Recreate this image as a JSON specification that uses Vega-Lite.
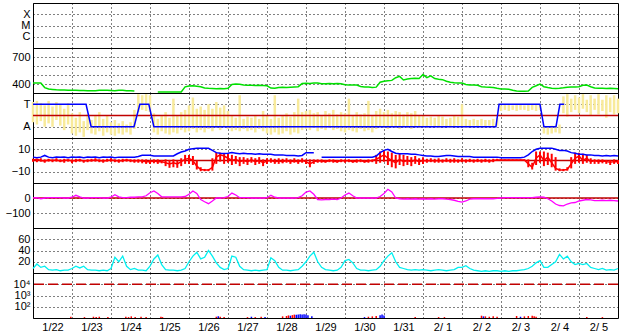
{
"$schema":"https://vega.github.io/schema/vega-lite/v6.json",
"padding":{"left":0,"top":2,"right":0,"bottom":0},
"background":"white",
"spacing":0,
"bounds":"flush",
"resolve":{"scale":{"x":"independent","y":"independent"}},
"config":{
 "view":{"stroke":"black","strokeWidth":1},
 "font":"Liberation Sans",
 "axis":{"labelFont":"Liberation Sans","labelFontSize":11,"labelColor":"black","ticks":false,"domain":false,"grid":true,"gridColor":"black","gridDash":[1,3],"gridOpacity":1,"gridWidth":1},
 "axisY":{"minExtent":32,"maxExtent":32,"labelPadding":3},
 "concat":{"spacing":0}
},
"datasets":{
"m":[
{"d":0.0,"sp":412,"bt":3,"bz":0.5,"bl":-1,"bh":1.5,"pl":-0.6,"ph":1.2,"ds":0,"kp":8},
{"d":0.1,"sp":412,"bt":2.5,"bz":1,"bl":-1.5,"bh":1.5,"pl":-0.8,"ph":1.3,"ds":2,"kp":16},
{"d":0.2,"sp":410,"bt":3,"bz":0,"bl":-1,"bh":2,"pl":-0.5,"ph":1.1,"ds":-5,"kp":10},
{"d":0.3,"sp":360,"bt":4.5,"bz":-0.5,"bl":-2,"bh":1,"pl":-1,"ph":0.9,"ds":0,"kp":12},
{"d":0.4,"sp":345,"bt":3,"bz":0.5,"bl":-1,"bh":1.5,"pl":-0.7,"ph":1.3,"ds":2,"kp":6},
{"d":0.5,"sp":340,"bt":2.5,"bz":0,"bl":-1.5,"bh":1,"pl":-1.0,"ph":0.8,"ds":2,"kp":5},
{"d":0.6,"sp":335,"bt":3,"bz":0.5,"bl":-1,"bh":2,"pl":-0.4,"ph":1.2,"ds":2,"kp":6},
{"d":0.7,"sp":333,"bt":2.8,"bz":-0.5,"bl":-1.5,"bh":1,"pl":-0.9,"ph":1.0,"ds":2,"kp":4},
{"d":0.8,"sp":332,"bt":3,"bz":0,"bl":-2,"bh":1.5,"pl":-1.3,"ph":0.6,"ds":0,"kp":5},
{"d":0.9,"sp":330,"bt":2.5,"bz":0.5,"bl":-1,"bh":1,"pl":-0.8,"ph":1.1,"ds":0,"kp":5},
{"d":1.0,"sp":331,"bt":3,"bz":-0.5,"bl":-2.5,"bh":1,"pl":-1.6,"ph":0.2,"ds":5,"kp":8},
{"d":1.1,"sp":330,"bt":2.8,"bz":0,"bl":-1.5,"bh":1.5,"pl":-1.8,"ph":-0.2,"ds":18,"kp":12},
{"d":1.2,"sp":328,"bt":3,"bz":0.5,"bl":-1,"bh":1.5,"pl":-1.5,"ph":0.3,"ds":8,"kp":9},
{"d":1.3,"sp":327,"bt":2.5,"bz":-0.5,"bl":-2,"bh":0.5,"pl":-1.9,"ph":-0.5,"ds":0,"kp":12},
{"d":1.4,"sp":326,"bt":3,"bz":0,"bl":-1.5,"bh":1,"pl":-1.3,"ph":0.1,"ds":0,"kp":6},
{"d":1.5,"sp":325,"bt":2.8,"bz":0,"bl":-1,"bh":1.5,"pl":-1.6,"ph":-0.4,"ds":2,"kp":5},
{"d":1.6,"sp":325,"bt":3,"bz":0.5,"bl":-1,"bh":2,"pl":-1.7,"ph":0,"ds":2,"kp":5},
{"d":1.7,"sp":330,"bt":2.5,"bz":0,"bl":-1.5,"bh":1,"pl":-1.4,"ph":0.3,"ds":2,"kp":4},
{"d":1.8,"sp":331,"bt":3,"bz":-0.5,"bl":-2,"bh":1,"pl":-1.8,"ph":-0.3,"ds":0,"kp":5},
{"d":1.9,"sp":330,"bt":2.8,"bz":0,"bl":-1,"bh":1.5,"pl":-1.5,"ph":0,"ds":0,"kp":4},
{"d":2.0,"sp":328,"bt":3,"bz":0.5,"bl":-1,"bh":2,"pl":-1.7,"ph":-0.6,"ds":5,"kp":8},
{"d":2.1,"sp":326,"bt":2.5,"bz":0,"bl":-1.5,"bh":1,"pl":-1.8,"ph":-0.4,"ds":22,"kp":28},
{"d":2.2,"sp":330,"bt":3,"bz":-0.5,"bl":-2,"bh":1,"pl":-1.6,"ph":-0.7,"ds":8,"kp":20},
{"d":2.3,"sp":330,"bt":3,"bz":0,"bl":-1.5,"bh":1.5,"pl":-1.7,"ph":-0.5,"ds":2,"kp":30},
{"d":2.4,"sp":326,"bt":2.8,"bz":0.5,"bl":-1,"bh":1.5,"pl":-1.5,"ph":-0.8,"ds":2,"kp":12},
{"d":2.5,"sp":324,"bt":3,"bz":0,"bl":-1.5,"bh":1,"pl":-1.7,"ph":-0.6,"ds":5,"kp":6},
{"d":2.6,"sp":322,"bt":3,"bz":-0.5,"bl":-2,"bh":1,"pl":-1.2,"ph":0.5,"ds":5,"kp":8},
{"d":2.7,"sp":null,"bt":3.5,"bz":0,"bl":-2,"bh":1,"pl":0.3,"ph":1.9,"ds":7,"kp":5},
{"d":2.8,"sp":null,"bt":4.6,"bz":-0.5,"bl":-2.5,"bh":1,"pl":0.5,"ph":1.8,"ds":7,"kp":5},
{"d":2.9,"sp":null,"bt":4.6,"bz":-1,"bl":-3,"bh":1,"pl":0.4,"ph":1.9,"ds":15,"kp":4},
{"d":3.0,"sp":null,"bt":4.6,"bz":-1,"bl":-3,"bh":0.5,"pl":0.3,"ph":1.8,"ds":35,"kp":12},
{"d":3.1,"sp":null,"bt":4,"bz":-0.5,"bl":-2.5,"bh":1,"pl":-1.5,"ph":0.2,"ds":47,"kp":25},
{"d":3.2,"sp":312,"bt":4,"bz":-1,"bl":-3,"bh":1,"pl":-1.7,"ph":-0.3,"ds":30,"kp":32},
{"d":3.3,"sp":311,"bt":4,"bz":-1,"bl":-2.5,"bh":0.5,"pl":-1.4,"ph":0,"ds":8,"kp":15},
{"d":3.4,"sp":310,"bt":4,"bz":-2,"bl":-5,"bh":1,"pl":-1.6,"ph":0.3,"ds":7,"kp":6},
{"d":3.5,"sp":311,"bt":4,"bz":-3,"bl":-6.5,"bh":0.5,"pl":-1.7,"ph":-0.2,"ds":7,"kp":5},
{"d":3.6,"sp":312,"bt":4,"bz":-2,"bl":-6,"bh":1,"pl":-1.5,"ph":1.5,"ds":7,"kp":5},
{"d":3.7,"sp":310,"bt":6,"bz":-3,"bl":-6.5,"bh":0,"pl":-1.6,"ph":0,"ds":7,"kp":4},
{"d":3.8,"sp":312,"bt":7.5,"bz":-1,"bl":-5,"bh":2,"pl":-1.3,"ph":0.3,"ds":7,"kp":5},
{"d":3.9,"sp":368,"bt":8.4,"bz":1,"bl":-3,"bh":5,"pl":-1.5,"ph":0.5,"ds":10,"kp":8},
{"d":4.0,"sp":378,"bt":10,"bz":2,"bl":-3,"bh":5,"pl":-1.4,"ph":0.9,"ds":25,"kp":20},
{"d":4.1,"sp":380,"bt":10.5,"bz":0,"bl":-4,"bh":4,"pl":-1.2,"ph":1.6,"ds":47,"kp":30},
{"d":4.2,"sp":376,"bt":10.8,"bz":-5,"bl":-8,"bh":0,"pl":-1.5,"ph":0.6,"ds":30,"kp":37},
{"d":4.3,"sp":370,"bt":10.8,"bz":-8,"bl":-9.5,"bh":-6,"pl":-1.3,"ph":0.8,"ds":-10,"kp":25},
{"d":4.4,"sp":355,"bt":10.8,"bz":-8.5,"bl":-9.5,"bh":-7.5,"pl":-1.5,"ph":0.5,"ds":-25,"kp":28},
{"d":4.5,"sp":352,"bt":10.8,"bz":-8.5,"bl":-9.5,"bh":-7.5,"pl":-1.2,"ph":1.0,"ds":-38,"kp":40},
{"d":4.6,"sp":350,"bt":9,"bz":-6,"bl":-9,"bh":2,"pl":-1.4,"ph":0.6,"ds":-20,"kp":30},
{"d":4.7,"sp":348,"bt":7,"bz":3,"bl":-3,"bh":7,"pl":-1.1,"ph":1.2,"ds":0,"kp":18},
{"d":4.8,"sp":350,"bt":6.5,"bz":5,"bl":-1,"bh":7,"pl":-1.3,"ph":0.7,"ds":0,"kp":10},
{"d":4.9,"sp":348,"bt":6.2,"bz":4,"bl":-3,"bh":6,"pl":-1.0,"ph":0.9,"ds":2,"kp":6},
{"d":5.0,"sp":352,"bt":6.5,"bz":2,"bl":-2,"bh":6,"pl":-1.2,"ph":0.4,"ds":10,"kp":8},
{"d":5.1,"sp":395,"bt":7,"bz":0,"bl":-4,"bh":5,"pl":-1.4,"ph":0,"ds":33,"kp":30},
{"d":5.2,"sp":400,"bt":6.5,"bz":1,"bl":-3,"bh":4,"pl":-1.3,"ph":-0.2,"ds":20,"kp":28},
{"d":5.3,"sp":398,"bt":6,"bz":-1,"bl":-5,"bh":3,"pl":-1.4,"ph":1.8,"ds":2,"kp":12},
{"d":5.4,"sp":388,"bt":6.5,"bz":0,"bl":-3,"bh":3,"pl":-1.2,"ph":-0.3,"ds":2,"kp":6},
{"d":5.5,"sp":385,"bt":6,"bz":-1,"bl":-4,"bh":2,"pl":-1.4,"ph":-0.1,"ds":2,"kp":5},
{"d":5.6,"sp":387,"bt":6,"bz":0.5,"bl":-2,"bh":3,"pl":-1.3,"ph":-0.2,"ds":0,"kp":4},
{"d":5.7,"sp":384,"bt":5.5,"bz":-1,"bl":-4,"bh":2,"pl":-1.5,"ph":0,"ds":0,"kp":5},
{"d":5.8,"sp":386,"bt":6,"bz":0,"bl":-3,"bh":3,"pl":-1.2,"ph":-0.3,"ds":0,"kp":4},
{"d":5.9,"sp":383,"bt":5.5,"bz":-2,"bl":-5,"bh":1,"pl":-1.4,"ph":0.4,"ds":0,"kp":5},
{"d":6.0,"sp":380,"bt":5.5,"bz":-0.5,"bl":-3,"bh":2,"pl":-1.6,"ph":0,"ds":2,"kp":6},
{"d":6.1,"sp":355,"bt":5.5,"bz":0,"bl":-2,"bh":2,"pl":-1.7,"ph":-0.3,"ds":18,"kp":27},
{"d":6.2,"sp":352,"bt":5,"bz":-1,"bl":-3,"bh":1.5,"pl":-1.5,"ph":1.8,"ds":5,"kp":22},
{"d":6.3,"sp":360,"bt":5,"bz":-0.5,"bl":-3,"bh":2,"pl":-1.7,"ph":-0.2,"ds":0,"kp":10},
{"d":6.4,"sp":363,"bt":5,"bz":-1,"bl":-2.5,"bh":1.5,"pl":-1.6,"ph":0,"ds":0,"kp":5},
{"d":6.5,"sp":362,"bt":4.5,"bz":0,"bl":-2,"bh":2,"pl":-1.4,"ph":0.2,"ds":0,"kp":5},
{"d":6.6,"sp":365,"bt":4.5,"bz":-1,"bl":-3,"bh":1,"pl":-1.7,"ph":-0.1,"ds":0,"kp":4},
{"d":6.7,"sp":368,"bt":4.5,"bz":-0.5,"bl":-2,"bh":2,"pl":-1.5,"ph":0.3,"ds":0,"kp":5},
{"d":6.8,"sp":370,"bt":4,"bz":-1,"bl":-3,"bh":1,"pl":-1.6,"ph":1.5,"ds":2,"kp":6},
{"d":6.9,"sp":405,"bt":4.5,"bz":0,"bl":-2,"bh":2,"pl":-1.3,"ph":0.3,"ds":15,"kp":12},
{"d":7.0,"sp":408,"bt":7,"bz":-1,"bl":-3,"bh":1,"pl":-1.2,"ph":0.4,"ds":40,"kp":20},
{"d":7.1,"sp":406,"bt":7,"bz":-3,"bl":-6,"bh":1,"pl":-1.3,"ph":0.5,"ds":47,"kp":30},
{"d":7.2,"sp":410,"bt":7,"bz":-1,"bl":-3,"bh":1,"pl":-1.1,"ph":0.2,"ds":25,"kp":37},
{"d":7.3,"sp":412,"bt":null,"bz":-0.5,"bl":-2,"bh":1,"pl":-1.4,"ph":0.3,"ds":-10,"kp":20},
{"d":7.4,"sp":402,"bt":3,"bz":-0.5,"bl":-2,"bh":1,"pl":-1.2,"ph":0,"ds":-12,"kp":10},
{"d":7.5,"sp":404,"bt":3,"bz":-1,"bl":-2,"bh":0.5,"pl":-1.3,"ph":0.4,"ds":-10,"kp":6},
{"d":7.6,"sp":405,"bt":3,"bz":0,"bl":-1.5,"bh":1,"pl":-1.1,"ph":0.2,"ds":-10,"kp":5},
{"d":7.7,"sp":403,"bt":3,"bz":-0.5,"bl":-2,"bh":1,"pl":-1.3,"ph":0.5,"ds":-8,"kp":4},
{"d":7.8,"sp":406,"bt":3,"bz":-1,"bl":-2,"bh":0.5,"pl":-1.2,"ph":0.1,"ds":-10,"kp":5},
{"d":7.9,"sp":402,"bt":3,"bz":0,"bl":-1.5,"bh":1,"pl":-1.4,"ph":0.3,"ds":0,"kp":10},
{"d":8.0,"sp":392,"bt":3,"bz":-0.5,"bl":-2,"bh":1,"pl":-1.5,"ph":0.2,"ds":20,"kp":22},
{"d":8.1,"sp":390,"bt":3,"bz":0,"bl":-1.5,"bh":1,"pl":-1.3,"ph":1.5,"ds":33,"kp":24},
{"d":8.2,"sp":388,"bt":3,"bz":-1,"bl":-2,"bh":0.5,"pl":-1.4,"ph":0,"ds":15,"kp":18},
{"d":8.3,"sp":388,"bt":3,"bz":-0.5,"bl":-2,"bh":1,"pl":-1.5,"ph":0.3,"ds":0,"kp":8},
{"d":8.4,"sp":372,"bt":3,"bz":0,"bl":-1.5,"bh":1,"pl":-1.2,"ph":0.1,"ds":0,"kp":5},
{"d":8.5,"sp":368,"bt":3,"bz":-1,"bl":-2,"bh":0.5,"pl":-1.4,"ph":0.2,"ds":0,"kp":5},
{"d":8.6,"sp":366,"bt":3,"bz":-0.5,"bl":-2,"bh":1,"pl":-1.3,"ph":1.3,"ds":0,"kp":4},
{"d":8.7,"sp":360,"bt":3,"bz":0,"bl":-1.5,"bh":1,"pl":-1.5,"ph":0,"ds":0,"kp":5},
{"d":8.8,"sp":365,"bt":4,"bz":1,"bl":-3,"bh":5,"pl":-1.2,"ph":0.4,"ds":0,"kp":6},
{"d":8.9,"sp":420,"bt":7,"bz":3,"bl":-2,"bh":8,"pl":-1.0,"ph":0.6,"ds":10,"kp":12},
{"d":9.0,"sp":430,"bt":9,"bz":5,"bl":-1,"bh":9,"pl":-1.1,"ph":0.3,"ds":30,"kp":22},
{"d":9.1,"sp":435,"bt":10,"bz":2,"bl":-4,"bh":8,"pl":-1.2,"ph":0.5,"ds":58,"kp":30},
{"d":9.2,"sp":440,"bt":8,"bz":0,"bl":-6,"bh":7,"pl":-1.0,"ph":0.2,"ds":40,"kp":36},
{"d":9.3,"sp":470,"bt":6.5,"bz":-2,"bl":-7,"bh":5,"pl":-1.1,"ph":0.4,"ds":0,"kp":20},
{"d":9.4,"sp":485,"bt":6,"bz":1,"bl":-4,"bh":6,"pl":-1.2,"ph":0.3,"ds":-5,"kp":10},
{"d":9.5,"sp":445,"bt":6,"bz":-1,"bl":-5,"bh":5,"pl":-1.0,"ph":0.1,"ds":-8,"kp":8},
{"d":9.6,"sp":455,"bt":6,"bz":0,"bl":-4,"bh":4,"pl":-1.1,"ph":0.3,"ds":-5,"kp":6},
{"d":9.7,"sp":460,"bt":5.5,"bz":-1,"bl":-5,"bh":3,"pl":-1.2,"ph":0.2,"ds":-8,"kp":5},
{"d":9.8,"sp":465,"bt":5.5,"bz":0.5,"bl":-3,"bh":4,"pl":-1.0,"ph":0.4,"ds":-5,"kp":6},
{"d":9.9,"sp":462,"bt":5,"bz":-1,"bl":-4,"bh":2,"pl":-1.1,"ph":0,"ds":-8,"kp":5},
{"d":10.0,"sp":505,"bt":4.5,"bz":0,"bl":-3,"bh":3,"pl":-1.0,"ph":0,"ds":-5,"kp":6},
{"d":10.1,"sp":470,"bt":4,"bz":-0.5,"bl":-2,"bh":1.5,"pl":-1.1,"ph":-0.2,"ds":-8,"kp":5},
{"d":10.2,"sp":490,"bt":4,"bz":0,"bl":-1.5,"bh":2,"pl":-0.9,"ph":-0.1,"ds":-5,"kp":4},
{"d":10.3,"sp":460,"bt":3.5,"bz":-0.5,"bl":-2,"bh":1.5,"pl":-1.0,"ph":-0.2,"ds":-8,"kp":5},
{"d":10.4,"sp":452,"bt":3.5,"bz":0,"bl":-2,"bh":2,"pl":-1.1,"ph":0,"ds":-5,"kp":6},
{"d":10.5,"sp":448,"bt":4,"bz":-0.5,"bl":-2,"bh":1,"pl":-0.9,"ph":-0.1,"ds":-5,"kp":5},
{"d":10.6,"sp":430,"bt":4.5,"bz":0,"bl":-1.5,"bh":2,"pl":-1.0,"ph":-0.3,"ds":-8,"kp":4},
{"d":10.7,"sp":420,"bt":4.5,"bz":-0.5,"bl":-2,"bh":1.5,"pl":-1.1,"ph":-0.2,"ds":-10,"kp":5},
{"d":10.8,"sp":415,"bt":4,"bz":0,"bl":-2,"bh":2,"pl":-1.0,"ph":0,"ds":-15,"kp":6},
{"d":10.9,"sp":412,"bt":3.5,"bz":-0.5,"bl":-2,"bh":1,"pl":-0.9,"ph":-0.1,"ds":-22,"kp":10},
{"d":11.0,"sp":410,"bt":3.5,"bz":0,"bl":-1.5,"bh":2,"pl":-1.0,"ph":1.0,"ds":-27,"kp":10},
{"d":11.1,"sp":395,"bt":3.5,"bz":-0.5,"bl":-2,"bh":1,"pl":-1.1,"ph":-0.3,"ds":-20,"kp":13},
{"d":11.2,"sp":390,"bt":3.5,"bz":0,"bl":-1.5,"bh":1.5,"pl":-1.0,"ph":-0.4,"ds":-8,"kp":8},
{"d":11.3,"sp":388,"bt":3,"bz":-0.5,"bl":-2,"bh":1,"pl":-0.9,"ph":-0.3,"ds":-5,"kp":5},
{"d":11.4,"sp":385,"bt":3,"bz":0,"bl":-1.5,"bh":1.5,"pl":-1.0,"ph":-0.4,"ds":-5,"kp":4},
{"d":11.5,"sp":370,"bt":3,"bz":-0.5,"bl":-2,"bh":1,"pl":-0.9,"ph":-0.3,"ds":-5,"kp":3},
{"d":11.6,"sp":367,"bt":3,"bz":0,"bl":-1.5,"bh":1.5,"pl":-1.0,"ph":-0.4,"ds":-5,"kp":4},
{"d":11.7,"sp":365,"bt":3,"bz":-0.5,"bl":-2,"bh":1,"pl":-0.9,"ph":-0.4,"ds":-5,"kp":3},
{"d":11.8,"sp":360,"bt":3,"bz":0,"bl":-1.5,"bh":1.5,"pl":-1.0,"ph":-0.3,"ds":-5,"kp":4},
{"d":11.9,"sp":352,"bt":3,"bz":0.5,"bl":0,"bh":1.5,"pl":-0.9,"ph":-0.2,"ds":-3,"kp":4},
{"d":12.0,"sp":345,"bt":2.5,"bz":0.5,"bl":0,"bh":1,"pl":0.4,"ph":0.9,"ds":0,"kp":3},
{"d":12.1,"sp":344,"bt":2.5,"bz":0.5,"bl":0,"bh":1,"pl":0.5,"ph":1.0,"ds":3,"kp":4},
{"d":12.2,"sp":342,"bt":2.5,"bz":0.5,"bl":0,"bh":1,"pl":0.4,"ph":1.0,"ds":3,"kp":3},
{"d":12.3,"sp":330,"bt":2.5,"bz":0.5,"bl":0,"bh":1,"pl":0.5,"ph":0.9,"ds":3,"kp":4},
{"d":12.4,"sp":322,"bt":2.5,"bz":0.5,"bl":0,"bh":1,"pl":0.4,"ph":1.0,"ds":3,"kp":4},
{"d":12.5,"sp":320,"bt":2.5,"bz":0.5,"bl":0,"bh":1,"pl":0.5,"ph":1.0,"ds":3,"kp":5},
{"d":12.6,"sp":320,"bt":3,"bz":0.5,"bl":0,"bh":1,"pl":0.5,"ph":0.9,"ds":3,"kp":6},
{"d":12.7,"sp":322,"bt":5,"bz":-3,"bl":-6,"bh":1,"pl":0.4,"ph":1.0,"ds":3,"kp":8},
{"d":12.8,"sp":362,"bt":8,"bz":-6,"bl":-8,"bh":-2,"pl":0.5,"ph":1.0,"ds":3,"kp":12},
{"d":12.9,"sp":380,"bt":10,"bz":2,"bl":-4,"bh":8,"pl":0.4,"ph":1.0,"ds":5,"kp":18},
{"d":13.0,"sp":400,"bt":10.8,"bz":5,"bl":-2,"bh":8,"pl":0.5,"ph":1.0,"ds":7,"kp":22},
{"d":13.1,"sp":370,"bt":11,"bz":0,"bl":-5,"bh":8,"pl":-1.6,"ph":-0.9,"ds":5,"kp":10},
{"d":13.2,"sp":360,"bt":11,"bz":3,"bl":-4,"bh":7,"pl":-1.7,"ph":-1.0,"ds":-5,"kp":10},
{"d":13.3,"sp":352,"bt":11,"bz":-2,"bl":-6,"bh":6,"pl":-1.6,"ph":-0.9,"ds":-20,"kp":15},
{"d":13.4,"sp":350,"bt":10,"bz":-7,"bl":-9,"bh":3,"pl":-1.5,"ph":-0.9,"ds":-40,"kp":20},
{"d":13.5,"sp":352,"bt":9,"bz":-8.5,"bl":-9.5,"bh":-7,"pl":-1.6,"ph":-0.8,"ds":-50,"kp":33},
{"d":13.6,"sp":358,"bt":9,"bz":-8.5,"bl":-9.5,"bh":-7.5,"pl":0.2,"ph":1.7,"ds":-53,"kp":25},
{"d":13.7,"sp":365,"bt":8.5,"bz":-8,"bl":-9,"bh":-6,"pl":-0.1,"ph":1.9,"ds":-40,"kp":30},
{"d":13.8,"sp":367,"bt":7,"bz":-3,"bl":-7,"bh":3,"pl":0.3,"ph":1.5,"ds":-33,"kp":20},
{"d":13.9,"sp":366,"bt":6.5,"bz":2,"bl":-3,"bh":7,"pl":0.5,"ph":1.8,"ds":-30,"kp":15},
{"d":14.0,"sp":370,"bt":5.5,"bz":4,"bl":-2,"bh":7,"pl":0.2,"ph":1.6,"ds":-20,"kp":17},
{"d":14.1,"sp":385,"bt":5.5,"bz":0,"bl":-3,"bh":6,"pl":0.6,"ph":1.9,"ds":-15,"kp":15},
{"d":14.2,"sp":389,"bt":5,"bz":2,"bl":-2,"bh":5,"pl":0.3,"ph":1.4,"ds":-10,"kp":17},
{"d":14.3,"sp":370,"bt":5,"bz":-1,"bl":-3,"bh":2,"pl":0.0,"ph":1.8,"ds":-12,"kp":10},
{"d":14.4,"sp":355,"bt":4.5,"bz":0,"bl":-3,"bh":1,"pl":0.5,"ph":1.5,"ds":-17,"kp":8},
{"d":14.5,"sp":352,"bt":4.5,"bz":-1,"bl":-3,"bh":1,"pl":0.1,"ph":1.9,"ds":-17,"kp":6},
{"d":14.6,"sp":354,"bt":4,"bz":-0.5,"bl":-2.5,"bh":1,"pl":0.4,"ph":1.4,"ds":-15,"kp":8},
{"d":14.7,"sp":350,"bt":4.5,"bz":-1,"bl":-3,"bh":0.5,"pl":-0.2,"ph":1.8,"ds":-17,"kp":5},
{"d":14.8,"sp":352,"bt":4,"bz":-1.5,"bl":-4,"bh":0.5,"pl":0.3,"ph":1.6,"ds":-15,"kp":6},
{"d":14.9,"sp":350,"bt":4.5,"bz":-1,"bl":-3,"bh":1,"pl":0.1,"ph":1.8,"ds":-17,"kp":5},
{"d":15.0,"sp":346,"bt":4,"bz":-1,"bl":-3,"bh":0.5,"pl":0.2,"ph":1.5,"ds":-20,"kp":8}
],
"ba":[{"d":0,"v":1},{"d":1.36,"v":1},{"d":1.49,"v":-1},{"d":2.59,"v":-1},{"d":2.74,"v":1},{"d":2.97,"v":1},{"d":3.1,"v":-1},{"d":11.87,"v":-1},{"d":11.95,"v":1},{"d":13.0,"v":1},{"d":13.1,"v":-1},{"d":13.41,"v":-1},{"d":13.51,"v":1},{"d":13.62,"v":1}],
"pr":[
{"d":0.97,"f":13,"c":"r"},{"d":1.32,"f":12,"c":"r"},{"d":1.55,"f":13,"c":"r"},{"d":1.62,"f":12,"c":"r"},{"d":1.7,"f":13,"c":"r"},{"d":1.92,"f":12,"c":"r"},{"d":2.38,"f":13,"c":"r"},{"d":2.45,"f":12,"c":"r"},{"d":2.52,"f":14,"c":"r"},{"d":2.62,"f":12,"c":"r"},{"d":2.77,"f":13,"c":"r"},{"d":2.9,"f":12,"c":"r"},{"d":3.28,"f":13,"c":"r"},{"d":3.32,"f":12,"c":"r"},
{"d":4.7,"f":13,"c":"r"},{"d":4.75,"f":14,"c":"b"},{"d":4.8,"f":13,"c":"r"},{"d":4.9,"f":12,"c":"r"},{"d":5.5,"f":12,"c":"r"},{"d":5.6,"f":13,"c":"b"},{"d":5.7,"f":12,"c":"r"},{"d":5.85,"f":13,"c":"r"},{"d":5.95,"f":12,"c":"b"},
{"d":6.4,"f":14,"c":"r"},{"d":6.5,"f":15,"c":"r"},{"d":6.55,"f":17,"c":"r"},{"d":6.6,"f":16,"c":"b"},{"d":6.65,"f":18,"c":"r"},{"d":6.7,"f":20,"c":"r"},{"d":6.75,"f":19,"c":"b"},{"d":6.8,"f":21,"c":"b"},{"d":6.85,"f":22,"c":"b"},{"d":6.9,"f":21,"c":"b"},{"d":6.95,"f":22,"c":"b"},{"d":7.0,"f":20,"c":"b"},{"d":7.05,"f":18,"c":"b"},{"d":7.15,"f":14,"c":"b"},
{"d":8.5,"f":12,"c":"b"},{"d":8.6,"f":13,"c":"r"},{"d":8.7,"f":14,"c":"r"},{"d":8.8,"f":15,"c":"r"},{"d":8.9,"f":18,"c":"b"},{"d":8.95,"f":20,"c":"b"},{"d":9.0,"f":17,"c":"b"},
{"d":9.8,"f":12,"c":"r"},{"d":10.4,"f":12,"c":"r"},{"d":10.55,"f":12,"c":"r"},{"d":11.5,"f":16,"c":"r"},{"d":11.55,"f":14,"c":"b"},{"d":11.6,"f":14,"c":"r"},{"d":11.7,"f":13,"c":"r"},{"d":11.8,"f":14,"c":"r"},{"d":11.9,"f":13,"c":"r"},
{"d":12.4,"f":15,"c":"r"},{"d":12.5,"f":13,"c":"b"},{"d":12.6,"f":14,"c":"r"},{"d":12.7,"f":15,"c":"r"},{"d":12.8,"f":16,"c":"r"},{"d":12.85,"f":14,"c":"r"},{"d":12.9,"f":13,"c":"r"},{"d":14.2,"f":12,"c":"r"},{"d":14.6,"f":12,"c":"r"}
],
"z0":[{"v":0}],
"z4":[{"v":10000}]
},
"vconcat":[
{"width":585,"height":45,"data":{"name":"m"},
 "mark":{"type":"point","opacity":0},
 "encoding":{
  "x":{"field":"d","type":"quantitative","title":null,"scale":{"domain":[0,15],"nice":false,"zero":false},"axis":{"values":[0,1,2,3,4,5,6,7,8,9,10,11,12,13,14],"labels":false}},
  "y":{"field":"xr","type":"quantitative","title":null,"scale":{"type":"log","domain":[1e-7,1e-3],"nice":false},"axis":{"values":[1e-6,1e-5,1e-4],"labelExpr":"datum.value > 5e-5 ? 'X' : datum.value > 5e-6 ? 'M' : 'C'"}}
 }},
{"width":585,"height":45,"data":{"name":"m"},
 "mark":{"type":"line","color":"#00e000","strokeWidth":1.5},
 "encoding":{
  "x":{"field":"d","type":"quantitative","title":null,"scale":{"domain":[0,15],"nice":false,"zero":false},"axis":{"values":[0,1,2,3,4,5,6,7,8,9,10,11,12,13,14],"labels":false}},
  "y":{"field":"sp","type":"quantitative","title":null,"scale":{"domain":[300,800],"nice":false,"zero":false},"axis":{"values":[400,500,600,700]}}
 }},
{"width":585,"height":45,
 "encoding":{
  "x":{"field":"d","type":"quantitative","title":null,"scale":{"domain":[0,15],"nice":false,"zero":false},"axis":{"values":[0,1,2,3,4,5,6,7,8,9,10,11,12,13,14],"labels":false}}
 },
 "layer":[
  {"data":{"name":"m"},"mark":{"type":"rule","color":"#f8ea9a","strokeWidth":2.5},
   "encoding":{"y":{"field":"pl","type":"quantitative","title":null,"scale":{"domain":[-2,2],"nice":false,"zero":false},"axis":{"values":[-1,1],"labelExpr":"datum.value > 0 ? 'T' : 'A'"}},"y2":{"field":"ph"}}},
  {"data":{"name":"z0"},"mark":{"type":"rule","color":"#c00000","strokeWidth":1.5},"encoding":{"x":null,"y":{"field":"v","type":"quantitative"}}},
  {"data":{"name":"ba"},"mark":{"type":"line","color":"#0000ff","strokeWidth":1.5},"encoding":{"y":{"field":"v","type":"quantitative"}}}
 ]},
{"width":585,"height":45,
 "encoding":{
  "x":{"field":"d","type":"quantitative","title":null,"scale":{"domain":[0,15],"nice":false,"zero":false},"axis":{"values":[0,1,2,3,4,5,6,7,8,9,10,11,12,13,14],"labels":false}}
 },
 "layer":[
  {"data":{"name":"z0"},"mark":{"type":"rule","color":"#c00000","strokeWidth":1.5},"encoding":{"x":null,"y":{"field":"v","type":"quantitative","title":null,"scale":{"domain":[-20,20],"nice":false,"zero":false},"axis":{"values":[-10,0,10]}}}},
  {"data":{"name":"m"},"mark":{"type":"rule","color":"#ff0000","strokeWidth":2},"encoding":{"y":{"field":"bl","type":"quantitative"},"y2":{"field":"bh"}}},
  {"data":{"name":"m"},"mark":{"type":"line","color":"#ff0000","strokeWidth":1.5},"encoding":{"y":{"field":"bz","type":"quantitative"}}},
  {"data":{"name":"m"},"mark":{"type":"line","color":"#0000ff","strokeWidth":1.5},"encoding":{"y":{"field":"bt","type":"quantitative"}}}
 ]},
{"width":585,"height":45,
 "encoding":{
  "x":{"field":"d","type":"quantitative","title":null,"scale":{"domain":[0,15],"nice":false,"zero":false},"axis":{"values":[0,1,2,3,4,5,6,7,8,9,10,11,12,13,14],"labels":false}}
 },
 "layer":[
  {"data":{"name":"z0"},"mark":{"type":"rule","color":"#c00000","strokeWidth":1.5},"encoding":{"x":null,"y":{"field":"v","type":"quantitative","title":null,"scale":{"domain":[-200,100],"nice":false,"zero":false},"axis":{"values":[-100,0]}}}},
  {"data":{"name":"m"},"mark":{"type":"line","color":"#ff00ff","strokeWidth":1.3},"encoding":{"y":{"field":"ds","type":"quantitative"}}}
 ]},
{"width":585,"height":45,"data":{"name":"m"},
 "mark":{"type":"line","color":"#00f0f0","strokeWidth":1.3},
 "encoding":{
  "x":{"field":"d","type":"quantitative","title":null,"scale":{"domain":[0,15],"nice":false,"zero":false},"axis":{"values":[0,1,2,3,4,5,6,7,8,9,10,11,12,13,14],"labels":false}},
  "y":{"field":"kp","type":"quantitative","title":null,"scale":{"domain":[0,80],"nice":false,"zero":false},"axis":{"values":[20,40,60]}}
 }},
{"width":585,"height":45,
 "encoding":{
  "x":{"field":"d","type":"quantitative","title":null,"scale":{"domain":[0,15],"nice":false,"zero":false},"axis":{"values":[0,1,2,3,4,5,6,7,8,9,10,11,12,13,14],"labelExpr":"['1/22','1/23','1/24','1/25','1/26','1/27','1/28','1/29','1/30','1/31','2/ 1','2/ 2','2/ 3','2/ 4','2/ 5'][datum.value]","labelOffset":19.5,"labelFlush":false,"labelPadding":3}}
 },
 "layer":[
  {"data":{"name":"z4"},"mark":{"type":"rule","color":"#c00000","strokeWidth":1.5,"strokeDash":[10,4]},"encoding":{"x":null,"y":{"field":"v","type":"quantitative","title":null,"scale":{"type":"log","domain":[10,100000],"nice":false},"axis":{"values":[100,1000,10000],"labelExpr":"datum.value == 100 ? '10²' : datum.value == 1000 ? '10³' : '10⁴'"}}}},
  {"data":{"name":"pr"},"mark":{"type":"rule","strokeWidth":1.5},"encoding":{"y":{"field":"f","type":"quantitative"},"y2":{"datum":10},"color":{"field":"c","type":"nominal","scale":{"domain":["r","b"],"range":["#ff0000","#0000ff"]},"legend":null}}}
 ]}
]
}
